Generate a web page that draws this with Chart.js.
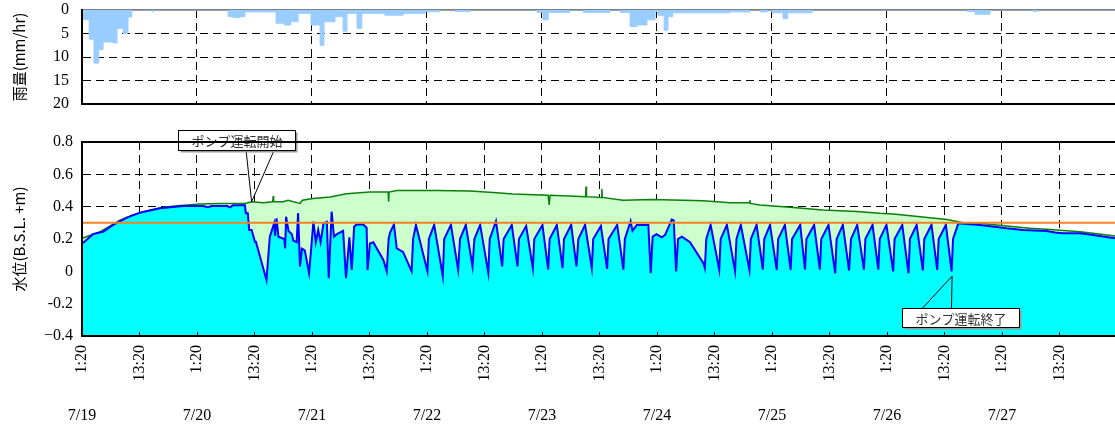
<!DOCTYPE html>
<html>
<head>
<meta charset="utf-8">
<script src="https://cdn.jsdelivr.net/npm/chart.js@4.4.0/dist/chart.umd.min.js"></script>
<style>
body { margin: 0; background: #fff; width: 1115px; height: 427px; overflow: hidden; position: relative; }
canvas { position: absolute; left: 0; }
#rainChart { top: 0; }
#levelChart { top: 120px; }
</style>
</head>
<body>
<canvas id="rainChart" width="1115" height="112"></canvas>
<canvas id="levelChart" width="1115" height="307"></canvas>
<script>
// hours are counted from 7/19 1:20
const hourMax = 215.6;

// rainfall: value holds from its start hour until the next one
const rainStartHour = [0, 1.5, 2.5, 3.5, 4.4, 6.5, 7.3, 8.6, 9.6, 10.4, 14.6, 15.0, 30.5, 31.5, 33.0, 34.0, 40.5, 42.2, 43.6, 45.1,
    47.8, 49.7, 50.5, 52.8, 54.5, 55.3, 57.4, 58.4, 63.2, 67.0, 71.6, 74.7, 77.8, 81.0, 95.0, 96.2, 97.3, 101.8, 104.6, 110.2,
    112.3, 114.4, 115.8, 117.9, 119.6, 120.2, 121.5, 122.3, 123.3, 135.2, 139.4, 141.5, 143.0, 144.0, 146.3, 147.3, 152.4,
    184.7, 186.4, 189.5, 198.5, 199.3, 215.6];
const rainMm = [2.0, 6.2, 11.3, 8.4, 6.8, 7.0, 3.9, 5.0, 1.5, 0, 0.3, 0, 1.4, 1.6, 1.4, 0.4, 2.8, 3.2, 2.5, 0.7,
    3.2, 7.5, 2.5, 1.4, 4.5, 0.7, 3.9, 0.7, 1.1, 0.7, 0.35, 0, 0.3, 0, 0.5, 2.1, 0.5, 0, 0.5, 0,
    0.5, 3.5, 3.2, 2.1, 0.3, 1.1, 4.3, 1.4, 0.6, 0.4, 0, 0.4, 0, 0.6, 1.8, 0.6, 0,
    0.3, 0.9, 0, 0.3, 0, 0];

// inner water level (blue)
const innerHour = [0.2, 2.3, 4.4, 6.5, 9.4, 12.1, 16.3, 21.1, 25.3, 26.3, 27.1, 30.3, 30.9, 31.5, 34.0, 34.2, 34.6, 34.9, 35.4, 36.1,
    36.3, 38.5, 39.2, 40.1, 40.3, 40.6, 41.0, 42.2, 42.4, 42.6, 43.1, 43.8, 44.1, 44.8, 45.1, 45.5, 45.9, 46.5, 47.4, 48.3,
    48.8, 49.3, 49.8, 50.4, 51.1, 51.5, 52.1, 52.6, 53.2, 54.5, 55.1, 55.8, 56.3, 56.8, 57.3, 58.7, 59.4, 59.6, 60.1, 60.8,
    62.9, 63.6, 64.0, 64.3, 65.1, 65.7, 67.0, 68.8, 69.1, 69.7, 72.1, 72.4, 73.5, 75.3, 75.6, 77.0, 78.5, 78.9, 80.1, 81.5,
    81.9, 83.1, 84.8, 85.1, 86.4, 87.7, 88.0, 89.7, 90.9, 91.2, 92.7, 94.1, 94.4, 96.1, 97.3, 97.6, 99.1, 100.3, 100.6, 102.1,
    103.2, 103.6, 105.0, 106.4, 106.7, 108.3, 109.6, 109.9, 111.7, 113.0, 113.3, 114.5, 114.9, 115.8, 118.2, 118.7, 119.1, 119.9, 121.0, 121.7,
    123.1, 123.5, 124.0, 124.4, 125.2, 126.9, 129.7, 130.0, 130.3, 131.2, 133.0, 133.3, 134.6, 136.3, 136.6, 137.5, 139.3, 139.6, 140.8, 142.1,
    142.4, 143.6, 145.0, 145.3, 146.7, 147.9, 148.2, 149.9, 150.9, 151.2, 152.8, 154.0, 154.3, 155.8, 157.2, 157.5, 158.8, 160.1, 160.5, 161.8,
    163.2, 163.5, 165.0, 166.2, 166.5, 167.9, 169.3, 169.6, 171.2, 172.5, 172.8, 174.2, 175.5, 175.8, 177.3, 178.5, 178.8, 180.3, 181.5, 181.8,
    182.9, 187.4, 193.0, 196.4, 201.3, 203.1, 204.7, 208.3, 211.0, 215.6];
const innerLevel = [0.175, 0.23, 0.245, 0.287, 0.332, 0.363, 0.39, 0.404, 0.404, 0.396, 0.404, 0.404, 0.396, 0.408, 0.408, 0.36, 0.36, 0.256, 0.256, 0.183,
    0.183, -0.054, 0.214, 0.297, 0.22, 0.328, 0.214, 0.2, 0.142, 0.338, 0.25, 0.23, 0.19, 0.18, 0.36, 0.03, 0.14, 0.13, -0.012, 0.307,
    0.18, 0.256, 0.18, 0.297, 0.307, -0.043, 0.369, 0.214, 0.23, 0.25, -0.043, 0.21, 0.008, 0.276, 0.29, 0.29, 0.27, 0.008, 0.173, 0.18,
    0.07, 0.0, 0.2, 0.24, 0.29, 0.142, 0.12, 0.0, 0.2, 0.287, 0.0, 0.2, 0.287, -0.03, 0.2, 0.287, 0.01, 0.2, 0.287, 0.03,
    0.2, 0.287, -0.01, 0.2, 0.31, 0.03, 0.2, 0.287, 0.03, 0.2, 0.28, 0.02, 0.2, 0.287, 0.01, 0.2, 0.287, 0.02, 0.2, 0.287,
    0.03, 0.2, 0.287, 0.02, 0.2, 0.28, 0.015, 0.2, 0.287, 0.01, 0.2, 0.31, 0.25, 0.287, 0.287, -0.012, 0.215, 0.23, 0.21, 0.225,
    0.32, 0.315, 0.0, 0.2, 0.215, 0.18, 0.05, 0.02, 0.2, 0.287, 0.01, 0.2, 0.287, 0.0, 0.2, 0.287, 0.008, 0.2, 0.287, 0.01,
    0.2, 0.287, 0.008, 0.2, 0.287, 0.008, 0.2, 0.287, 0.01, 0.2, 0.287, 0.01, 0.2, 0.287, -0.012, 0.2, 0.287, 0.005, 0.2, 0.287,
    0.01, 0.2, 0.287, 0.01, 0.2, 0.287, 0.0, 0.2, 0.287, -0.012, 0.2, 0.287, 0.005, 0.2, 0.287, 0.008, 0.2, 0.287, 0.0, 0.2,
    0.297, 0.287, 0.266, 0.256, 0.25, 0.24, 0.235, 0.235, 0.225, 0.205];

// outer water level (green)
const outerHour = [0.2, 3.8, 5.8, 7.9, 10.6, 13.6, 16.9, 20.5, 24.6, 29.0, 34.0, 35.4, 37.8, 39.8, 39.9, 40.0, 42.0, 43.0, 45.5, 46.0,
    48.2, 51.8, 55.2, 60.1, 63.9, 64.0, 64.1, 65.7, 74.1, 81.0, 86.6, 89.9, 97.3, 97.5, 97.7, 101.8, 105.1, 105.2, 105.3, 108.4,
    108.5, 108.6, 112.9, 119.2, 129.6, 135.2, 137.3, 139.3, 139.4, 139.5, 141.5, 147.8, 154.6, 161.7, 166.5, 169.3, 173.4, 180.5, 183.9, 187.4,
    193.0, 197.8, 201.3, 208.3, 211.0, 215.6];
const outerLevel = [0.206, 0.245, 0.28, 0.317, 0.348, 0.375, 0.396, 0.408, 0.416, 0.42, 0.42, 0.43, 0.425, 0.43, 0.466, 0.43, 0.43, 0.44, 0.42, 0.44,
    0.45, 0.46, 0.48, 0.49, 0.49, 0.43, 0.49, 0.5, 0.5, 0.497, 0.486, 0.478, 0.47, 0.41, 0.47, 0.466, 0.462, 0.524, 0.462, 0.457,
    0.51, 0.457, 0.44, 0.445, 0.437, 0.425, 0.425, 0.425, 0.44, 0.42, 0.41, 0.396, 0.38, 0.37, 0.359, 0.355, 0.342, 0.32, 0.30, 0.297,
    0.28, 0.266, 0.26, 0.245, 0.235, 0.218];

const thresholdLevel = 0.3;

const rainTicks = [0, 5, 10, 15, 20];
const rainTickLabels = ['0', '5', '10', '15', '20'];
const levelTicks = [-0.4, -0.2, 0, 0.2, 0.4, 0.6, 0.8];
const levelTickLabels = ['\u22120.4', '-0.2', '0', '0.2', '0.4', '0.6', '0.8'];
const clockLabels = ['1:20', '13:20'];
const dateLabels = ['7/19', '7/20', '7/21', '7/22', '7/23', '7/24', '7/25', '7/26', '7/27'];

const callouts = [
    { text: 'ポンプ運転開始', hour: 35.4, level: 0.43 },
    { text: 'ポンプ運転終了', hour: 181.6, level: -0.03 }
];

const serif = "'Liberation Serif', 'DejaVu Serif', serif";
const jp = "'Noto Sans CJK JP', sans-serif";
const clear = 'rgba(0,0,0,0)';
const toPoints = (xs, ys) => xs.map((x, i) => ({ x: x, y: ys[i] }));

// callout box offsets from the pointer tip, in px
const calloutLayout = [
    { box: [-74, -72, 117, 20], base: [[-5.6, -52], [22.7, -52]] },
    { box: [-50, 32, 117, 19], base: [[-29.6, 32], [-0.6, 32]] }
];

const calloutPlugin = {
    id: 'callouts',
    afterDatasetsDraw(chart) {
        const ctx = chart.ctx;
        const xs = chart.scales.x;
        const ys = chart.scales.y;
        ctx.save();
        callouts.forEach((c, i) => {
            const lay = calloutLayout[i];
            const tx = xs.getPixelForValue(c.hour);
            const ty = ys.getPixelForValue(c.level);
            ctx.strokeStyle = '#000';
            ctx.lineWidth = 1;
            ctx.beginPath();
            ctx.moveTo(tx + lay.base[0][0], ty + lay.base[0][1]);
            ctx.lineTo(tx, ty);
            ctx.lineTo(tx + lay.base[1][0], ty + lay.base[1][1]);
            ctx.stroke();
            const bx = Math.round(tx + lay.box[0]) + 0.5;
            const by = Math.round(ty + lay.box[1]) + 0.5;
            const bw = lay.box[2], bh = lay.box[3];
            ctx.fillStyle = '#999';
            ctx.fillRect(bx + 2, by + 2, bw, bh);
            ctx.fillStyle = '#fff';
            ctx.fillRect(bx, by, bw, bh);
            ctx.strokeRect(bx, by, bw, bh);
            ctx.fillStyle = '#333';
            ctx.font = '13px ' + jp;
            ctx.textAlign = 'center';
            ctx.textBaseline = 'middle';
            ctx.fillText(c.text, bx + bw / 2, by + bh / 2 + 1);
        });
        ctx.restore();
    }
};

// small tick marks inside the bottom axis
const innerTicksPlugin = {
    id: 'innerTicks',
    afterDraw(chart) {
        const ctx = chart.ctx;
        const xs = chart.scales.x;
        const bottom = chart.chartArea.bottom;
        ctx.save();
        ctx.strokeStyle = '#000';
        ctx.lineWidth = 1;
        xs.ticks.forEach(t => {
            const px = Math.round(xs.getPixelForValue(t.value)) + 0.5;
            ctx.beginPath();
            ctx.moveTo(px, bottom);
            ctx.lineTo(px, bottom - 4);
            ctx.stroke();
        });
        ctx.restore();
    }
};

const fixWidth = s => { s.width = 82; s.paddingTop = 0; s.paddingBottom = 0; };

function renderRain() {
    new Chart(document.getElementById('rainChart'), {
        type: 'line',
        data: {
            datasets: [{
                data: toPoints(rainStartHour, rainMm),
                stepped: true,
                fill: 'origin',
                backgroundColor: '#99CCFF',
                borderColor: '#99CCFF',
                borderWidth: 1,
                pointRadius: 0
            }]
        },
        options: {
            responsive: false,
            animation: false,
            layout: { padding: { top: 10, left: 0, right: 0, bottom: 0 } },
            plugins: { legend: { display: false }, tooltip: { enabled: false } },
            scales: {
                x: {
                    type: 'linear', min: 0, max: hourMax,
                    afterBuildTicks: s => { s.ticks = dateLabels.map((d, i) => ({ value: i * 24 })); },
                    afterFit: s => { s.height = 8; s.paddingLeft = 0; s.paddingRight = 0; },
                    ticks: { display: false },
                    grid: { color: c => (c.tick && c.tick.value > 0) ? '#000' : clear, drawTicks: false, lineWidth: 1 },
                    border: { color: '#000', width: 2, dash: [8, 5], z: 1 }
                },
                xTop: {
                    type: 'linear', position: 'top', min: 0, max: hourMax,
                    afterFit: s => { s.height = 0; s.paddingLeft = 0; s.paddingRight = 0; },
                    ticks: { display: false },
                    grid: { display: false },
                    border: { color: '#808080', width: 2 }
                },
                y: {
                    reverse: true, min: 0, max: 20,
                    afterBuildTicks: s => { s.ticks = rainTicks.map(v => ({ value: v })); },
                    afterFit: fixWidth,
                    ticks: { callback: (v, i) => rainTickLabels[i], font: { family: serif, size: 16 }, color: '#000', padding: 13 },
                    grid: { color: c => (c.tick && c.tick.value > 0 && c.tick.value < 20) ? '#000' : clear, drawTicks: false, lineWidth: 1 },
                    border: { color: '#000', width: 2, dash: [8, 5], z: 1 },
                    title: { display: true, text: '雨量(mm/hr)', font: { family: jp, size: 15 }, color: '#000', padding: { top: 10, bottom: 0 } }
                }
            }
        }
    });
}

function renderLevel() {
    new Chart(document.getElementById('levelChart'), {
        type: 'line',
        data: {
            datasets: [{
                data: [{ x: 0, y: thresholdLevel }, { x: hourMax, y: thresholdLevel }],
                borderColor: '#F58220',
                borderWidth: 2,
                pointRadius: 0,
                fill: false,
                order: 0
            }, {
                data: toPoints(innerHour, innerLevel),
                borderColor: '#0000FF',
                borderWidth: 2,
                backgroundColor: '#00FFFF',
                fill: 'start',
                pointRadius: 0,
                order: 1
            }, {
                data: toPoints(outerHour, outerLevel),
                borderColor: '#0A800A',
                borderWidth: 1.5,
                backgroundColor: '#CCFFCC',
                fill: 'start',
                pointRadius: 0,
                order: 2
            }]
        },
        options: {
            responsive: false,
            animation: false,
            layout: { padding: { top: 22, left: 0, right: 0, bottom: 0 } },
            plugins: { legend: { display: false }, tooltip: { enabled: false } },
            scales: {
                x: {
                    type: 'linear', min: 0, max: hourMax, weight: 0,
                    afterBuildTicks: s => {
                        const t = [];
                        for (let h = 0; h <= hourMax; h += 6) t.push({ value: h });
                        s.ticks = t;
                    },
                    afterFit: s => { s.height = 62; },
                    ticks: {
                        callback: v => (v % 12 === 0 ? clockLabels[(v / 12) % 2] : null),
                        autoSkip: false, minRotation: 90, maxRotation: 90,
                        font: { family: serif, size: 16 }, color: '#000', padding: 9
                    },
                    grid: { color: c => (c.tick && c.tick.value > 0) ? '#000' : clear, drawTicks: false, lineWidth: 1 },
                    border: { color: '#000', width: 2, dash: [8, 5], z: 1 }
                },
                xDate: {
                    type: 'linear', position: 'bottom', min: 0, max: hourMax, weight: 1,
                    afterBuildTicks: s => { s.ticks = dateLabels.map((d, i) => ({ value: i * 24 })); },
                    afterFit: s => { s.height = 29; },
                    ticks: { callback: (v, i) => dateLabels[i], autoSkip: false, maxRotation: 0, font: { family: serif, size: 16 }, color: '#000', padding: 0 },
                    grid: { display: false },
                    border: { display: false }
                },
                xTop: {
                    type: 'linear', position: 'top', min: 0, max: hourMax,
                    afterFit: s => { s.height = 0; },
                    ticks: { display: false },
                    grid: { display: false },
                    border: { color: '#000', width: 2, z: 1 }
                },
                y: {
                    min: -0.4, max: 0.8,
                    afterBuildTicks: s => { s.ticks = levelTicks.map(v => ({ value: v })); },
                    afterFit: fixWidth,
                    ticks: { callback: (v, i) => levelTickLabels[i], font: { family: serif, size: 16 }, color: '#000', padding: 9 },
                    grid: { color: c => (c.tick && c.tick.value > -0.4 && c.tick.value < 0.8) ? '#000' : clear, drawTicks: false, lineWidth: 1 },
                    border: { color: '#000', width: 2, dash: [8, 5], z: 1 },
                    title: { display: true, text: '水位(B.S.L. +m)', font: { family: jp, size: 15 }, color: '#000', padding: { top: 10, bottom: 0 } }
                }
            }
        },
        plugins: [calloutPlugin, innerTicksPlugin]
    });
}

renderRain();
renderLevel();
</script>
</body>
</html>
